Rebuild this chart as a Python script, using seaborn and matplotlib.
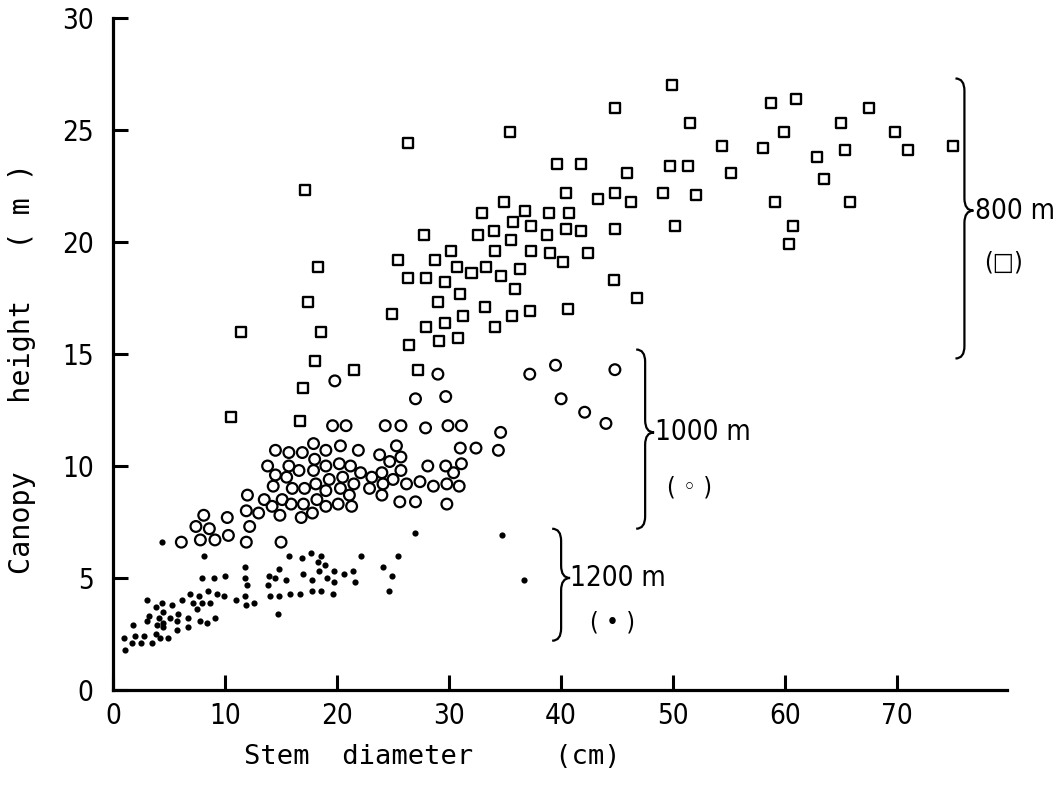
import seaborn as sns
import numpy as np
import matplotlib.pyplot as plt
from matplotlib import font_manager
from matplotlib.path import Path
from matplotlib.patches import PathPatch

## stem diameter (cm) and canopy height (m)
dia_800 = [26.3, 17.1, 18.3, 17.4, 11.4, 18.6, 18.0, 21.5, 17.0, 10.5, 16.7, 27.2, 26.4,
           24.9, 27.9, 29.1, 29.6, 30.8, 31.2, 29.0, 31.0, 33.2, 34.1, 26.3, 27.9, 29.6,
           25.4, 28.7, 30.2, 30.7, 32.0, 33.3, 34.1, 34.6, 27.8, 32.6, 34.0, 32.9, 34.9,
           39.6, 41.8, 45.9, 49.7, 51.3, 40.4, 43.3, 44.8, 46.2, 49.1, 52.0, 50.2, 36.8,
           35.7, 38.9, 40.7, 35.5, 37.3, 38.7, 40.4, 41.8, 44.8, 37.3, 39.0, 40.2, 42.4,
           36.3, 35.9, 44.7, 46.8, 35.6, 37.2, 40.6, 49.9, 44.8, 51.5, 35.4, 54.4, 55.2,
           58.7, 61.0, 67.5, 59.9, 65.0, 69.8, 58.0, 62.8, 65.3, 71.0, 75.0, 63.5, 59.1,
           65.8, 60.7, 60.3]
ht_800 = [24.4, 22.3, 18.9, 17.3, 16.0, 16.0, 14.7, 14.3, 13.5, 12.2, 12.0, 14.3, 15.4,
          16.8, 16.2, 15.6, 16.4, 15.7, 16.7, 17.3, 17.7, 17.1, 16.2, 18.4, 18.4, 18.2,
          19.2, 19.2, 19.6, 18.9, 18.6, 18.9, 19.6, 18.5, 20.3, 20.3, 20.5, 21.3, 21.8,
          23.5, 23.5, 23.1, 23.4, 23.4, 22.2, 21.9, 22.2, 21.8, 22.2, 22.1, 20.7, 21.4,
          20.9, 21.3, 21.3, 20.1, 20.7, 20.3, 20.6, 20.5, 20.6, 19.6, 19.5, 19.1, 19.5,
          18.8, 17.9, 18.3, 17.5, 16.7, 16.9, 17.0, 27.0, 26.0, 25.3, 24.9, 24.3, 23.1,
          26.2, 26.4, 26.0, 24.9, 25.3, 24.9, 24.2, 23.8, 24.1, 24.1, 24.3, 22.8, 21.8,
          21.8, 20.7, 19.9]

dia_1000 = [6.1, 7.4, 7.8, 19.8, 29.0, 27.0, 29.7, 19.6, 20.8, 24.3, 25.7, 27.9, 29.9,
            31.1, 34.6, 34.4, 32.4, 31.0, 17.9, 14.5, 15.7, 16.9, 19.0, 20.3, 21.9, 18.0,
            23.8, 25.3, 25.7, 24.7, 13.8, 15.7, 19.0, 20.2, 21.2, 14.5, 15.5, 16.6, 17.9,
            19.3, 20.5, 22.1, 23.1, 24.0, 25.7, 25.0, 28.1, 29.7, 31.1, 30.4, 14.3, 16.0,
            17.1, 18.1, 19.0, 20.3, 21.5, 21.1, 22.9, 24.1, 24.0, 26.2, 27.4, 28.6, 29.8,
            30.9, 12.0, 13.5, 15.1, 14.2, 15.9, 17.0, 18.2, 19.0, 20.1, 21.3, 17.8, 16.8,
            14.9, 13.0, 11.9, 25.6, 27.0, 29.8, 12.2, 10.2, 8.1, 8.6, 9.1, 10.3, 11.9, 15.0,
            37.2, 39.5, 44.8, 40.0, 42.1, 44.0]
ht_1000 = [6.6, 7.3, 6.7, 13.8, 14.1, 13.0, 13.1, 11.8, 11.8, 11.8, 11.8, 11.7, 11.8,
           11.8, 11.5, 10.7, 10.8, 10.8, 11.0, 10.7, 10.6, 10.6, 10.7, 10.9, 10.7, 10.3,
           10.5, 10.9, 10.4, 10.2, 10.0, 10.0, 10.0, 10.1, 10.0, 9.6, 9.5, 9.8, 9.8,
           9.4, 9.5, 9.7, 9.5, 9.7, 9.8, 9.4, 10.0, 10.0, 10.1, 9.7, 9.1, 9.0,
           9.0, 9.2, 8.9, 9.0, 9.2, 8.7, 9.0, 9.2, 8.7, 9.2, 9.3, 9.1, 9.2,
           9.1, 8.7, 8.5, 8.5, 8.2, 8.3, 8.3, 8.5, 8.2, 8.3, 8.2, 7.9, 7.7,
           7.8, 7.9, 8.0, 8.4, 8.4, 8.3, 7.3, 7.7, 7.8, 7.2, 6.7, 6.9, 6.6, 6.6,
           14.1, 14.5, 14.3, 13.0, 12.4, 11.9]

dia_1200 = [4.4, 8.1, 7.9, 9.0, 10.0, 11.8, 11.8, 12.0, 11.8, 11.9, 12.6, 11.0, 9.9, 9.3,
            8.5, 8.7, 7.9, 7.7, 6.9, 7.1, 7.5, 6.2, 5.3, 4.4, 3.0, 3.8, 4.5, 5.8, 5.1, 4.1,
            3.2, 3.0, 4.5, 3.9, 5.7, 6.7, 7.8, 8.4, 9.1, 6.7, 5.7, 4.5, 3.8, 4.2, 4.9, 2.8,
            1.8, 2.0, 1.0, 1.7, 2.5, 3.5, 1.1, 15.7, 16.9, 17.7, 18.6, 18.3, 18.9, 22.1,
            25.4, 14.8, 13.9, 14.5, 15.4, 13.8, 17.0, 17.8, 18.4, 19.1, 19.7, 19.7, 20.6,
            21.4, 21.6, 14.0, 14.8, 15.8, 16.7, 17.8, 18.6, 19.6, 14.7, 24.1, 24.9, 24.6,
            27.0, 34.7, 36.7]
ht_1200 = [6.6, 6.0, 5.0, 5.0, 5.1, 5.5, 5.0, 4.7, 4.2, 3.8, 3.9, 4.0, 4.2, 4.3,
           4.4, 3.9, 3.9, 4.2, 4.3, 3.9, 3.6, 4.0, 3.8, 3.9, 4.0, 3.7, 3.5, 3.4, 3.2, 3.2,
           3.3, 3.1, 3.0, 2.9, 3.1, 3.2, 3.1, 3.0, 3.2, 2.8, 2.7, 2.8, 2.5, 2.3, 2.3, 2.4,
           2.9, 2.4, 2.3, 2.1, 2.1, 2.1, 1.8, 6.0, 5.9, 6.1, 6.0, 5.7, 5.6, 6.0,
           6.0, 5.4, 5.1, 5.0, 4.9, 4.7, 5.2, 4.9, 5.3, 5.0, 5.3, 4.8, 5.2,
           5.3, 4.8, 4.2, 4.2, 4.3, 4.3, 4.4, 4.4, 4.3, 3.4, 5.5, 5.1, 4.4,
           7.0, 6.9, 4.9]

## altitude groups and their symbols, written next to the braces
groups = ["800 m", "1000 m", "1200 m"]
symbols = ["(\u25a1)", "( \u25e6 )", "( \u2022 )"]

sns.set_style("ticks")
names = {f.name for f in font_manager.fontManager.ttflist}
font = "Liberation Sans Narrow" if "Liberation Sans Narrow" in names else "DejaVu Sans"
plt.rcParams["font.family"] = [font, "DejaVu Sans"]
plt.rcParams["font.stretch"] = "condensed"
for k in ["text.color", "axes.edgecolor", "axes.labelcolor", "xtick.color", "ytick.color"]:
    plt.rcParams[k] = "black"

fig = plt.figure(figsize=(10.64, 7.91), dpi=100)
ax = fig.add_axes([113 / 1064, 101 / 791, 894 / 1064, 672 / 791])

sns.scatterplot(x=dia_800, y=ht_800, ax=ax, marker="s", s=52, color="black",
                facecolor="none", edgecolor="black", linewidth=1.7, zorder=3)
sns.scatterplot(x=dia_1000, y=ht_1000, ax=ax, marker="o", s=60, color="black",
                facecolor="none", edgecolor="black", linewidth=1.6, zorder=3)
sns.scatterplot(x=dia_1200, y=ht_1200, ax=ax, marker="o", s=20, color="black",
                edgecolor="black", linewidth=0, zorder=3)

ax.set_xlim(0, 79.8)
ax.set_ylim(0, 30)
ax.set_xticks(range(0, 71, 10))
ax.set_yticks(range(0, 31, 5))
sns.despine(ax=ax)
for s in ["left", "bottom"]:
    ax.spines[s].set_linewidth(2.3)
ax.tick_params(direction="in", length=11, width=2.2, labelsize=20)
ax.tick_params(axis="x", pad=9)
ax.tick_params(axis="y", pad=14)


def brace(x, y0, y1, ym, w=0.8, c=0.55):
    verts = [(x - w, y1), (x, y1), (x, y1 - c), (x, ym + c), (x, ym), (x + w, ym),
             (x, ym), (x, ym - c), (x, y0 + c), (x, y0), (x - w, y0)]
    codes = [Path.MOVETO, Path.CURVE3, Path.CURVE3, Path.LINETO, Path.CURVE3, Path.CURVE3,
             Path.CURVE3, Path.CURVE3, Path.LINETO, Path.CURVE3, Path.CURVE3]
    ax.add_patch(PathPatch(Path(verts, codes), fill=False, lw=1.6, ec="black", clip_on=False))


brace(76.0, 14.8, 27.3, 21.4)
brace(47.5, 7.2, 15.2, 11.5)
brace(40.0, 2.2, 7.2, 5.0)

ax.text(76.9, 21.4, groups[0], fontsize=20, va="center", ha="left", clip_on=False)
ax.text(79.5, 19.1, symbols[0], fontsize=18, va="center", ha="center", clip_on=False)
ax.text(48.4, 11.5, groups[1], fontsize=20, va="center", ha="left")
ax.text(51.5, 9.06, symbols[1], fontsize=18, va="center", ha="center")
ax.text(40.8, 5.0, groups[2], fontsize=20, va="center", ha="left")
ax.text(44.6, 3.0, symbols[2], fontsize=18, va="center", ha="center")

fig.text(432 / 1064, 1 - 757 / 791, "Stem  diameter     (cm)", family="DejaVu Sans Mono",
         fontsize=19.5, ha="center", va="center")
fig.text(22 / 1064, 1 - 368 / 791, "Canopy    height   ( m )", family="DejaVu Sans Mono",
         fontsize=20.5, ha="center", va="center", rotation=90)

fig.savefig("out.png", dpi=100)
